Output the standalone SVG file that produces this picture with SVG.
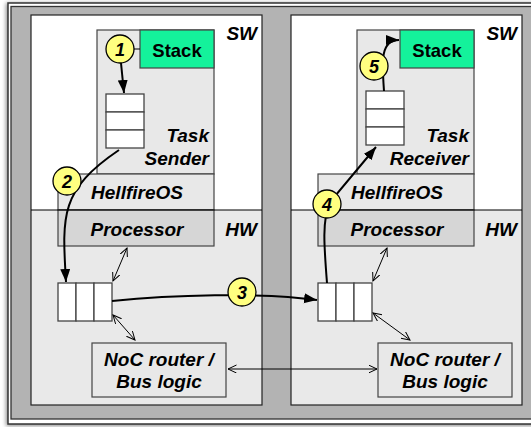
<svg xmlns="http://www.w3.org/2000/svg" width="531" height="427" viewBox="0 0 531 427">
  <style>
    .lbl { font-family: "Liberation Sans", Arial, sans-serif; font-weight: bold; font-style: italic; font-size: 19px; fill: #000; }
    .stk { font-family: "Liberation Sans", Arial, sans-serif; font-weight: bold; font-size: 18.5px; fill: #000; }
    .num { font-family: "Liberation Sans", Arial, sans-serif; font-weight: bold; font-style: italic; font-size: 18px; fill: #000; text-anchor: middle; }
    .box { fill: #e8e8e8; stroke: #444; stroke-width: 1.2; }
    .cpu { fill: #d6d6d6; stroke: #444; stroke-width: 1.2; }
    .stack { fill: #14f29b; stroke: #444; stroke-width: 1.2; }
    .cell { fill: #fff; stroke: #444; stroke-width: 1.3; }
    .mark { fill: #ffff80; stroke: #000; stroke-width: 1.3; }
    .flow { fill: none; stroke: #000; stroke-width: 2; }
    .link { fill: none; stroke: #000; stroke-width: 1; }
  </style>
  <defs>
    <marker id="head" markerUnits="userSpaceOnUse" markerWidth="14" markerHeight="12" refX="13" refY="5" orient="auto">
      <path d="M0,0 L13,5 L0,10 Z" fill="#000"/>
    </marker>
    <marker id="open" markerUnits="userSpaceOnUse" markerWidth="10" markerHeight="10" refX="8.5" refY="4" orient="auto-start-reverse">
      <path d="M0,0 L8.5,4 L0,8" fill="none" stroke="#000" stroke-width="1"/>
    </marker>
    <filter id="shade" x="-5%" y="-5%" width="110%" height="110%">
      <feGaussianBlur stdDeviation="2"/>
    </filter>
  </defs>

  <!-- outer frame with soft shadow -->
  <rect x="6" y="3" width="600" height="423" fill="#000" opacity="0.45" filter="url(#shade)"/>
  <rect x="8" y="3" width="600" height="421" fill="#fff" stroke="#333" stroke-width="1.5"/>
  <rect x="11" y="6.5" width="600" height="412.5" fill="#b3b3b3" stroke="#333" stroke-width="1.3"/>

  <!-- left node: sender side -->
  <g id="panel-left">
    <rect x="31" y="15" width="231" height="195" fill="#fff"/>
    <rect x="31" y="210" width="231" height="195" fill="#e9e9e9"/>
    <rect x="31" y="15" width="231" height="390" fill="none" stroke="#222" stroke-width="1.2"/>
    <text class="lbl" x="257" y="40" text-anchor="end">SW</text>
    <text class="lbl" x="257" y="236" text-anchor="end">HW</text>
  </g>
  <g id="task-sender">
    <rect class="box" x="97" y="30" width="117" height="144"/>
    <text class="lbl" x="209" y="142" text-anchor="end">Task</text>
    <text class="lbl" x="209" y="165" text-anchor="end">Sender</text>
  </g>
  <g id="stack-sender">
    <rect class="stack" x="140" y="30" width="74" height="38"/>
    <text class="stk" x="177" y="57" text-anchor="middle">Stack</text>
  </g>
  <g id="queue-sender">
    <rect class="cell" x="106" y="94" width="38" height="18"/>
    <rect class="cell" x="106" y="112" width="38" height="18"/>
    <rect class="cell" x="106" y="130" width="38" height="18"/>
  </g>
  <g id="os-left">
    <rect class="box" x="58" y="174" width="156" height="36"/>
    <text class="lbl" x="137" y="199" text-anchor="middle">HellfireOS</text>
  </g>
  <g id="cpu-left">
    <rect class="cpu" x="58" y="210" width="156" height="36"/>
    <text class="lbl" x="137" y="236" text-anchor="middle">Processor</text>
  </g>
  <g id="buffer-left">
    <rect class="cell" x="58" y="283" width="18" height="38"/>
    <rect class="cell" x="76" y="283" width="18" height="38"/>
    <rect class="cell" x="94" y="283" width="18" height="38"/>
  </g>
  <g id="noc-left">
    <rect class="box" x="92" y="343" width="134" height="54"/>
    <text class="lbl" x="159" y="366" text-anchor="middle">NoC router /</text>
    <text class="lbl" x="159" y="388" text-anchor="middle">Bus logic</text>
  </g>
  <line x1="31" y1="210" x2="262" y2="210" stroke="#000" stroke-width="1.2"/>

  <!-- right node: receiver side -->
  <g id="panel-right">
    <rect x="291" y="15" width="231" height="195" fill="#fff"/>
    <rect x="291" y="210" width="231" height="195" fill="#e9e9e9"/>
    <rect x="291" y="15" width="231" height="390" fill="none" stroke="#222" stroke-width="1.2"/>
    <text class="lbl" x="517" y="40" text-anchor="end">SW</text>
    <text class="lbl" x="517" y="236" text-anchor="end">HW</text>
  </g>
  <g id="task-receiver">
    <rect class="box" x="357" y="30" width="117" height="144"/>
    <text class="lbl" x="469" y="142" text-anchor="end">Task</text>
    <text class="lbl" x="469" y="165" text-anchor="end">Receiver</text>
  </g>
  <g id="stack-receiver">
    <rect class="stack" x="400" y="30" width="74" height="38"/>
    <text class="stk" x="437" y="57" text-anchor="middle">Stack</text>
  </g>
  <g id="queue-receiver">
    <rect class="cell" x="366" y="91" width="38" height="18"/>
    <rect class="cell" x="366" y="109" width="38" height="18"/>
    <rect class="cell" x="366" y="127" width="38" height="18"/>
  </g>
  <g id="os-right">
    <rect class="box" x="318" y="174" width="156" height="36"/>
    <text class="lbl" x="397" y="199" text-anchor="middle">HellfireOS</text>
  </g>
  <g id="cpu-right">
    <rect class="cpu" x="318" y="210" width="156" height="36"/>
    <text class="lbl" x="397" y="236" text-anchor="middle">Processor</text>
  </g>
  <g id="buffer-right">
    <rect class="cell" x="318" y="283" width="18" height="38"/>
    <rect class="cell" x="336" y="283" width="18" height="38"/>
    <rect class="cell" x="354" y="283" width="18" height="38"/>
  </g>
  <g id="noc-right">
    <rect class="box" x="378" y="343" width="134" height="54"/>
    <text class="lbl" x="445" y="366" text-anchor="middle">NoC router /</text>
    <text class="lbl" x="445" y="388" text-anchor="middle">Bus logic</text>
  </g>
  <line x1="291" y1="210" x2="522" y2="210" stroke="#000" stroke-width="1.2"/>

  <!-- connectors -->
  <g id="connectors">
    <line class="link" x1="134" y1="49" x2="140" y2="49"/>
    <path class="flow" d="M121,63 L124,93" marker-end="url(#head)"/>
    <path class="flow" d="M119,150 C60,190 62,215 66,282" marker-end="url(#head)"/>
    <path class="flow" d="M112,301 C170,295 260,292 317,300" marker-end="url(#head)"/>
    <path class="flow" d="M327,283 C324,245 322,220 330,202 L376,147" marker-end="url(#head)"/>
    <path class="flow" d="M384,91 C382,62 380,40 399,40" marker-end="url(#head)"/>
    <line class="link" x1="127" y1="248" x2="113" y2="281" marker-start="url(#open)" marker-end="url(#open)"/>
    <line class="link" x1="113" y1="315" x2="135" y2="340" marker-start="url(#open)" marker-end="url(#open)"/>
    <line class="link" x1="387" y1="248" x2="373" y2="281" marker-start="url(#open)" marker-end="url(#open)"/>
    <line class="link" x1="373" y1="313" x2="410" y2="340" marker-start="url(#open)" marker-end="url(#open)"/>
    <line class="link" x1="228" y1="369" x2="377" y2="369" marker-start="url(#open)" marker-end="url(#open)"/>
  </g>

  <!-- step markers -->
  <g id="step-1">
    <circle class="mark" cx="120" cy="49" r="14"/>
    <text class="num" x="120" y="56">1</text>
  </g>
  <g id="step-2">
    <circle class="mark" cx="67" cy="181" r="14"/>
    <text class="num" x="67" y="188">2</text>
  </g>
  <g id="step-3">
    <circle class="mark" cx="242" cy="292" r="14"/>
    <text class="num" x="242" y="299">3</text>
  </g>
  <g id="step-4">
    <circle class="mark" cx="327" cy="204" r="14"/>
    <text class="num" x="327" y="211">4</text>
  </g>
  <g id="step-5">
    <circle class="mark" cx="374" cy="66" r="14"/>
    <text class="num" x="374" y="73">5</text>
  </g>
</svg>
